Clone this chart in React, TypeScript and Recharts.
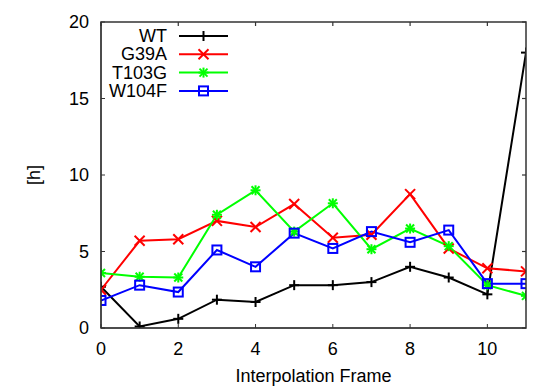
import { LineChart, Line, XAxis, YAxis } from "recharts";

// --- Data ---

const frames = [0, 1, 2, 3, 4, 5, 6, 7, 8, 9, 10, 11];
const wt = [2.7, 0.1, 0.6, 1.85, 1.7, 2.8, 2.8, 3.0, 4.0, 3.3, 2.2, 18.0];
const g39a = [2.5, 5.7, 5.8, 7.0, 6.6, 8.1, 5.9, 6.1, 8.75, 5.2, 3.9, 3.7];
const t103g = [3.6, 3.35, 3.3, 7.4, 9.0, 6.3, 8.15, 5.15, 6.5, 5.35, 2.8, 2.1];
const w104f = [1.8, 2.8, 2.35, 5.1, 4.0, 6.2, 5.2, 6.3, 5.6, 6.4, 2.9, 2.9];

const xTicks = [0, 2, 4, 6, 8, 10];
const yTicks = [0, 5, 10, 15, 20];
const X_MAX = 11;
const Y_MAX = 20;

type MarkerKind = "plus" | "cross" | "star" | "square";

const SERIES: { key: string; name: string; color: string; marker: MarkerKind }[] = [
  { key: "wt", name: "WT", color: "#000000", marker: "plus" },
  { key: "g39a", name: "G39A", color: "#ff0000", marker: "cross" },
  { key: "t103g", name: "T103G", color: "#00ff00", marker: "star" },
  { key: "w104f", name: "W104F", color: "#0000ff", marker: "square" },
];

const chartData = frames.map((f, i) => ({
  frame: f,
  wt: wt[i],
  g39a: g39a[i],
  t103g: t103g[i],
  w104f: w104f[i],
}));

// --- Layout ---

const W = 554;
const H = 388;
const MARGIN = { top: 22, right: 28, bottom: 0, left: 0 };
const YAXIS_W = 101;
const XAXIS_H = 60;
const PLOT = {
  left: MARGIN.left + YAXIS_W,
  top: MARGIN.top,
  right: W - MARGIN.right,
  bottom: H - MARGIN.bottom - XAXIS_H,
};
const TICK_LEN = 4;

const FONT = "'Liberation Sans', Arial, Helvetica, sans-serif";
const AXIS_COLOR = "#333333";

// same linear mapping the chart uses, for the mirrored top/right ticks
const sx = (v: number) => PLOT.left + (v / X_MAX) * (PLOT.right - PLOT.left);
const sy = (v: number) => PLOT.bottom - (v / Y_MAX) * (PLOT.bottom - PLOT.top);

// --- Markers (gnuplot-style point types) ---

function Marker({ cx, cy, kind, color }: { cx: number; cy: number; kind: MarkerKind; color: string }) {
  const sw = 2;
  if (kind === "plus") {
    const r = 5;
    return (
      <g>
        <line x1={cx - r} y1={cy} x2={cx + r} y2={cy} stroke={color} strokeWidth={sw} />
        <line x1={cx} y1={cy - r} x2={cx} y2={cy + r} stroke={color} strokeWidth={sw} />
      </g>
    );
  }
  if (kind === "cross") {
    const r = 5;
    return (
      <g>
        <line x1={cx - r} y1={cy - r} x2={cx + r} y2={cy + r} stroke={color} strokeWidth={sw} />
        <line x1={cx - r} y1={cy + r} x2={cx + r} y2={cy - r} stroke={color} strokeWidth={sw} />
      </g>
    );
  }
  if (kind === "star") {
    const r = 5;
    const d = 4;
    return (
      <g>
        <line x1={cx - r} y1={cy} x2={cx + r} y2={cy} stroke={color} strokeWidth={sw} />
        <line x1={cx} y1={cy - r} x2={cx} y2={cy + r} stroke={color} strokeWidth={sw} />
        <line x1={cx - d} y1={cy - d} x2={cx + d} y2={cy + d} stroke={color} strokeWidth={sw} />
        <line x1={cx - d} y1={cy + d} x2={cx + d} y2={cy - d} stroke={color} strokeWidth={sw} />
      </g>
    );
  }
  const h = 4.5;
  return <rect x={cx - h} y={cy - h} width={h * 2} height={h * 2} fill="none" stroke={color} strokeWidth={sw} />;
}

// --- Overlay: top/right border with inward ticks, plus the key ---

function Overlay() {
  const rowH = 18.3;
  return (
    <svg
      width={W}
      height={H}
      style={{ position: "absolute", left: 0, top: 0, pointerEvents: "none" }}
    >
      <rect
        x={PLOT.left}
        y={PLOT.top}
        width={PLOT.right - PLOT.left}
        height={PLOT.bottom - PLOT.top}
        fill="none"
        stroke={AXIS_COLOR}
        strokeWidth={1.5}
      />
      {xTicks.map((t) => (
        <line key={`tt-${t}`} x1={sx(t)} y1={PLOT.top} x2={sx(t)} y2={PLOT.top + TICK_LEN} stroke={AXIS_COLOR} strokeWidth={1.2} />
      ))}
      {yTicks.map((t) => (
        <line key={`rt-${t}`} x1={PLOT.right} y1={sy(t)} x2={PLOT.right - TICK_LEN} y2={sy(t)} stroke={AXIS_COLOR} strokeWidth={1.2} />
      ))}
      {SERIES.map((s, i) => {
        const y = 36 + i * rowH;
        return (
          <g key={s.key}>
            <text
              x={167}
              y={y}
              textAnchor="end"
              dominantBaseline="central"
              fontFamily={FONT}
              fontSize={18}
              fill="#000"
            >
              {s.name}
            </text>
            <line x1={179} y1={y} x2={228} y2={y} stroke={s.color} strokeWidth={2} />
            <Marker cx={203.5} cy={y} kind={s.marker} color={s.color} />
          </g>
        );
      })}
    </svg>
  );
}

export default function App() {
  const tickStyle = { fill: "#000", fontSize: 18, fontFamily: FONT };
  return (
    <div style={{ position: "absolute", left: 0, top: 0, width: W, height: H, background: "#fff" }}>
      <LineChart width={W} height={H} data={chartData} margin={MARGIN} style={{ fontFamily: FONT }}>
        <XAxis
          dataKey="frame"
          type="number"
          domain={[0, X_MAX]}
          ticks={xTicks}
          allowDataOverflow
          height={XAXIS_H}
          tickSize={-TICK_LEN}
          tickMargin={18}
          tick={tickStyle}
          stroke={AXIS_COLOR}
          label={{ value: "Interpolation Frame", position: "insideBottom", offset: 6, fill: "#000", fontSize: 18 }}
        />
        <YAxis
          type="number"
          domain={[0, Y_MAX]}
          ticks={yTicks}
          allowDataOverflow
          width={YAXIS_W}
          tickSize={-TICK_LEN}
          tickMargin={16}
          tick={tickStyle}
          stroke={AXIS_COLOR}
          label={{
            value: "[h]",
            angle: -90,
            position: "insideLeft",
            offset: 34,
            fill: "#000",
            fontSize: 18,
            style: { textAnchor: "middle" },
          }}
        />
        {SERIES.map((s) => (
          <Line
            key={s.key}
            dataKey={s.key}
            name={s.name}
            type="linear"
            stroke={s.color}
            strokeWidth={2}
            isAnimationActive={false}
            dot={(p: any) => (
              <g key={`${s.key}-${p.index}`}>
                <Marker cx={p.cx} cy={p.cy} kind={s.marker} color={s.color} />
              </g>
            )}
            activeDot={false}
          />
        ))}
      </LineChart>
      <Overlay />
    </div>
  );
}
